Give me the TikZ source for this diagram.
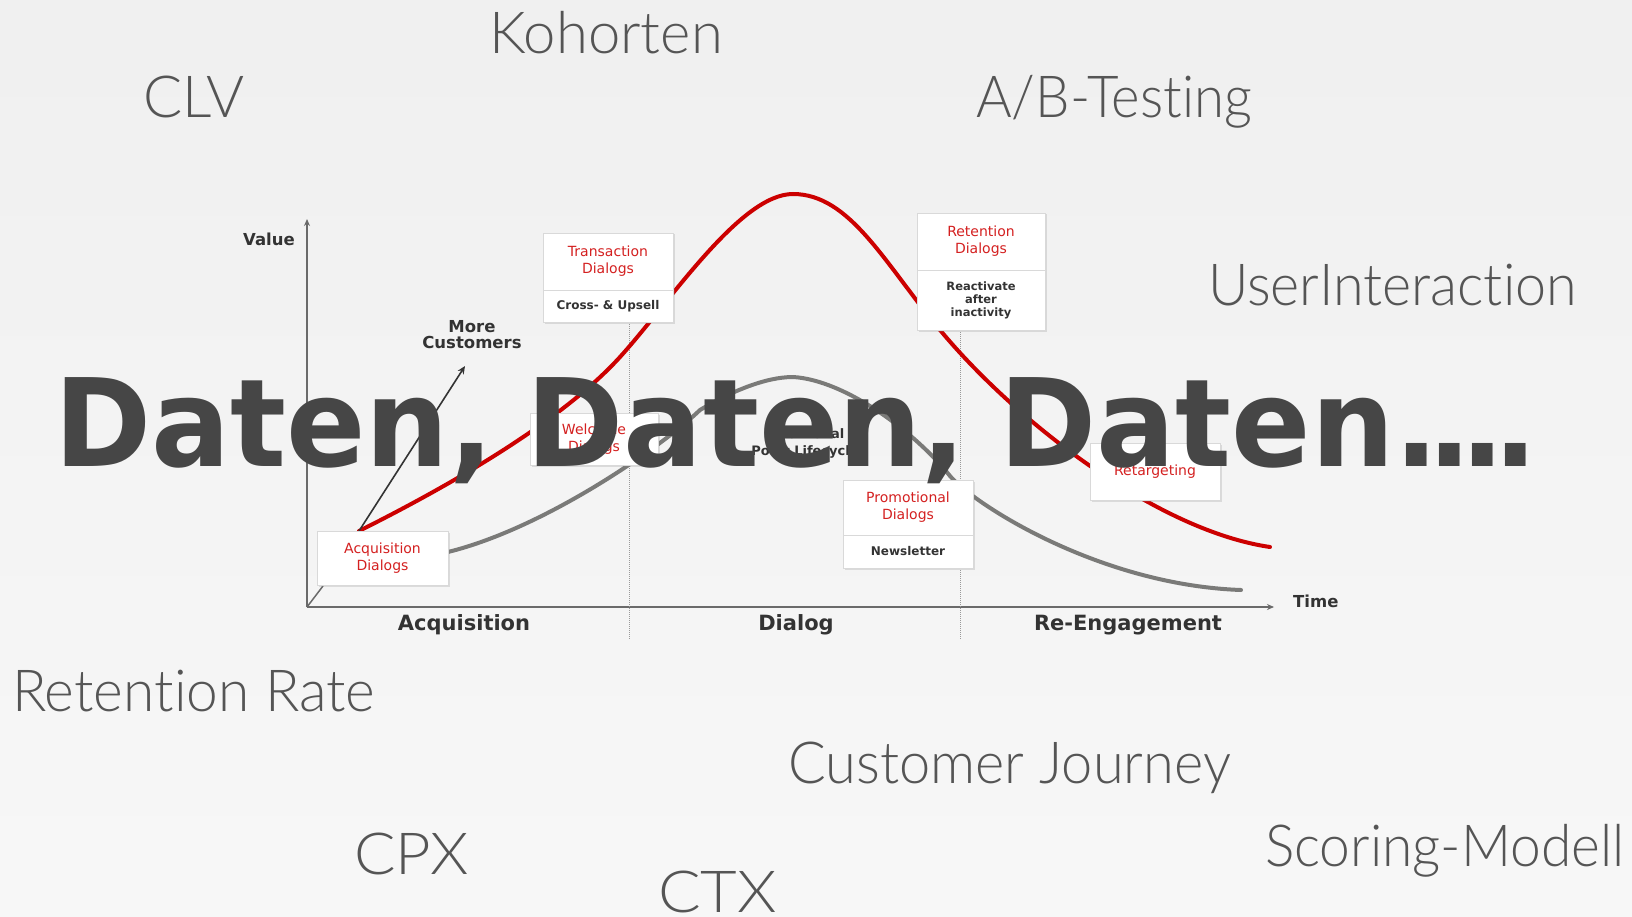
\documentclass[tikz,border=0pt]{standalone}
\usepackage{fontspec}
\setmainfont{DejaVu Sans}
\newfontfamily\cloudfont{Lato Light}[Ligatures=NoCommon]
\newfontfamily\bigfont{DejaVu Sans}
\usetikzlibrary{shadows,arrows.meta}
\definecolor{cloudc}{HTML}{555555}
\definecolor{redc}{HTML}{CC0000}
\definecolor{redt}{HTML}{D42020}
\definecolor{grayc}{HTML}{7A7A78}
\definecolor{darkc}{HTML}{333333}
\definecolor{bigc}{HTML}{464646}
\definecolor{axisc}{HTML}{6A6A6A}
\begin{document}
\begin{tikzpicture}[x=1pt,y=-1pt,
  cloud/.style={anchor=base west, inner sep=0pt, text=cloudc, font=\cloudfont\fontsize{58}{60}\selectfont},
  box/.style={draw=gray!30, fill=white, line width=0.8pt, inner sep=0pt, align=center,
    drop shadow={shadow xshift=1.5pt, shadow yshift=-1.5pt, opacity=0.22}},
  redlbl/.style={text=redt, font=\fontsize{14}{17}\selectfont},
  darklbl/.style={text=darkc, font=\bfseries\fontsize{12}{14}\selectfont},
  axlbl/.style={text=darkc, font=\bfseries\fontsize{21}{24}\selectfont, inner sep=0pt},
  smlbl/.style={text=darkc, font=\bfseries\fontsize{16.5}{19}\selectfont, inner sep=0pt, align=center},
  curve/.style={line width=4pt, line cap=round},
  guide/.style={densely dotted, line width=1pt, draw=gray!80}
]
% background
\shade[top color=black!6, bottom color=black!3] (0,0) rectangle (1632,917);
\useasboundingbox (0,0) rectangle (1632,917);

% word cloud
\node[cloud] (kohorten) at (489,54) {Kohorten};
\node[cloud] (clv) at (143,118) {CLV};
\node[cloud] (ab) at (976,118) {\scalebox{0.94}[1]{A/B-Testing}};
\node[cloud] (ui) at (1208,305) {\scalebox{0.96}[1]{UserInteraction}};
\node[cloud] (rr) at (12,711) {\scalebox{0.98}[1]{Retention Rate}};
\node[cloud] (cj) at (788,783) {\scalebox{0.965}[1]{Customer Journey}};
\node[cloud] (cpx) at (354,874) {\scalebox{1.06}[1]{CPX}};
\node[cloud] (ctx) at (658,912) {\scalebox{1.09}[1]{CTX}};
\node[cloud] (sm) at (1265,866) {\scalebox{0.95}[1]{Scoring-Modell}};

% axes
\coordinate (origin) at (307,607);
\coordinate (ytop) at (307,219);
\coordinate (xend) at (1274,607);
\coordinate (floor) at (323,586);
\draw[axisc, line width=2pt, -{Stealth[length=7pt,width=6pt]}] (origin) -- (ytop);
\draw[axisc, line width=2pt, -{Stealth[length=7pt,width=6pt]}] (origin) -- (xend);
\draw[axisc, line width=1.5pt] (origin) -- (floor);
\node[smlbl, anchor=east] (value) at (295,239) {Value};
\node[smlbl, anchor=west] (time) at (1293,601) {Time};
\node[axlbl] (acq) at (464,625) {Acquisition};
\node[axlbl] (dia) at (796,625) {Dialog};
\node[axlbl] (reeng) at (1128,625) {Re-Engagement};

% guides
\coordinate (g1b) at (629,639);
\coordinate (g2b) at (960,639);
\coordinate (g1t) at (629,322);
\coordinate (g2t) at (960,330);
\draw[guide] (g1t) -- (g1b);
\draw[guide] (g2t) -- (g2b);

% curves
\draw[curve, grayc] (448,552) .. controls (545,528) and (660,448) .. (700,410)
  .. controls (730,392) and (765,377) .. (793,377)
  .. controls (845,380) and (915,432) .. (950,476)
  .. controls (975,505) and (1100,585) .. (1241,590);
\draw[curve, redc] (359,531) .. controls (446,487.5) and (560,423) .. (620,357)
  .. controls (670,302) and (740,194) .. (793,194)
  .. controls (850,194) and (885,264) .. (940,330)
  .. controls (1020,426) and (1160,531) .. (1270,547);

% more customers
\coordinate (mcstart) at (359,531);
\coordinate (mcend) at (465,366);
\node[smlbl] (morecust) at (472,335) {More\\[-3pt]Customers};
\draw[darkc, line width=1.6pt, -{Stealth[length=8pt,width=7pt]}] (mcstart) -- (mcend);

% boxes
\node[box, minimum width=131pt, minimum height=54pt, redlbl] (acqbox) at (382.5,558) {Acquisition\\Dialogs};
\node[box, minimum width=130pt, minimum height=57pt, redlbl] (transbox) at (608,261.5) {Transaction\\Dialogs};
\node[box, minimum width=130pt, minimum height=32pt, darklbl] (crossbox) at (608,306) {Cross- \& Upsell};
\node[box, minimum width=128pt, minimum height=52pt, redlbl] (welcbox) at (594,439) {Welcome\\Dialogs};
\node[box, minimum width=128pt, minimum height=57pt, redlbl] (retbox) at (981,241.5) {Retention\\Dialogs};
\node[box, minimum width=128pt, minimum height=60pt, darklbl, font=\bfseries\fontsize{11.5}{13}\selectfont] (reactbox) at (981,300) {Reactivate\\after\\inactivity};
\node[box, minimum width=130pt, minimum height=55pt, redlbl] (promobox) at (908,507.5) {Promotional\\Dialogs};
\node[box, minimum width=130pt, minimum height=33pt, darklbl] (newsbox) at (908,551.5) {Newsletter};
\node[box, minimum width=130pt, minimum height=57pt, redlbl] (retargbox) at (1155,471.5) {Retargeting};
\node[text=darkc, font=\bfseries\fontsize{13}{17}\selectfont, align=center] (lifecycle) at (805,443) {Traditional\\Point Lifecycle};

% big overlay text
\node[anchor=base west, inner sep=0pt, text=bigc, font=\bigfont\bfseries\fontsize{122}{122}\selectfont] (daten) at (54,466) {\scalebox{0.96}[1]{Daten,\kern-8pt\ Daten,\kern-8pt\ Daten.\kern-12pt.\kern-12pt.\kern-12pt.}};
\end{tikzpicture}
\end{document}
